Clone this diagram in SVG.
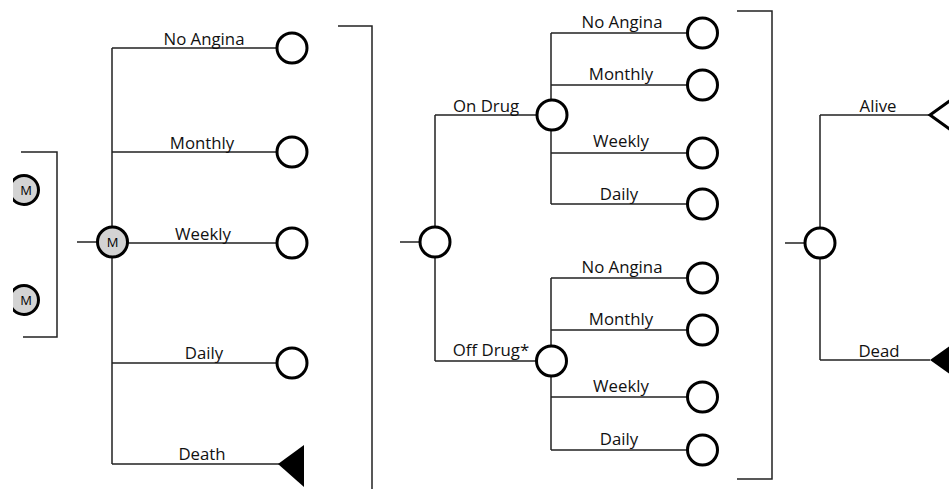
<svg xmlns="http://www.w3.org/2000/svg" width="949" height="489" viewBox="0 0 949 489">
<style>
.ln{stroke:#222;stroke-width:1.5;fill:none}
.ch{fill:#fff;stroke:#000;stroke-width:3}
.mk{fill:#d3d3d3;stroke:#000;stroke-width:3}
.tm{fill:#000;stroke:none}
.tr{fill:#fff;stroke:#000;stroke-width:3}
text{font-family:"Open Sans","DejaVu Sans",sans-serif;font-size:16.8px;fill:#111;text-anchor:middle}
.m{font-size:13px;fill:#000}
</style>
<defs>
<clipPath id="lc"><rect x="13" y="0" width="60" height="489"/></clipPath>
</defs>
<rect width="949" height="489" fill="#fff"/>
<g id="connectors">
<path class="ln" d="M21,152 H57 V337 H23"/>
<path class="ln" d="M77,242 H97"/>
<path class="ln" d="M112,48 V464 M112,48 H277 M112,152 H277 M112,243 H277 M112,363 H277 M112,464 H280"/>
<path class="ln" d="M338,26 H372 V489"/>
<path class="ln" d="M400,242 H420"/>
<path class="ln" d="M435,115 V227 M435,257 V361 M435,115 H537 M435,361 H536"/>
<path class="ln" d="M551,33 V100 M551,130 V204 M551,33 H687 M551,85 H687 M551,153 H687 M551,204 H687"/>
<path class="ln" d="M551,278 V346 M551,376 V450 M551,278 H687 M551,330 H687 M551,397 H687 M551,450 H687"/>
<path class="ln" d="M737,11 H772 V479 H737"/>
<path class="ln" d="M785,243 H805"/>
<path class="ln" d="M820,115 V228 M820,258 V360 M820,115 H930 M820,360 H930"/>
</g>
<g id="left-markov" clip-path="url(#lc)">
<circle class="mk" cx="24" cy="190" r="14.5"/><text class="m" x="26" y="195">M</text>
<circle class="mk" cx="24" cy="300" r="14.5"/><text class="m" x="26" y="305">M</text>
</g>
<g id="markov"><circle class="mk" cx="112.5" cy="242" r="15"/><text class="m" x="112.5" y="247">M</text></g>
<g id="t1-noangina"><text x="204" y="45">No Angina</text><circle class="ch" cx="292" cy="48" r="15"/></g>
<g id="t1-monthly"><text x="202" y="149">Monthly</text><circle class="ch" cx="292" cy="152" r="15"/></g>
<g id="t1-weekly"><text x="203" y="240">Weekly</text><circle class="ch" cx="292" cy="243" r="15"/></g>
<g id="t1-daily"><text x="204" y="359">Daily</text><circle class="ch" cx="292" cy="363" r="15"/></g>
<g id="t1-death"><text x="202" y="460">Death</text><polygon class="tm" points="278,464 304,445 304,487"/></g>
<g id="t2-root"><circle class="ch" cx="435" cy="242" r="15"/></g>
<g id="t2-ondrug"><text x="486" y="112">On Drug</text><circle class="ch" cx="552" cy="115" r="15"/></g>
<g id="t2-offdrug"><text x="491" y="356">Off Drug*</text><circle class="ch" cx="551.5" cy="361" r="15"/></g>
<g id="t2a-noangina"><text x="622" y="28">No Angina</text><circle class="ch" cx="702.5" cy="33" r="15"/></g>
<g id="t2a-monthly"><text x="621" y="80">Monthly</text><circle class="ch" cx="702.5" cy="85" r="15"/></g>
<g id="t2a-weekly"><text x="621" y="147">Weekly</text><circle class="ch" cx="702.5" cy="153" r="15"/></g>
<g id="t2a-daily"><text x="619" y="200">Daily</text><circle class="ch" cx="702.5" cy="204" r="15"/></g>
<g id="t2b-noangina"><text x="622" y="273">No Angina</text><circle class="ch" cx="702.5" cy="278" r="15"/></g>
<g id="t2b-monthly"><text x="621" y="325">Monthly</text><circle class="ch" cx="702.5" cy="330" r="15"/></g>
<g id="t2b-weekly"><text x="621" y="392">Weekly</text><circle class="ch" cx="702.5" cy="397" r="15"/></g>
<g id="t2b-daily"><text x="619" y="445">Daily</text><circle class="ch" cx="702.5" cy="450" r="15"/></g>
<g id="t3-root"><circle class="ch" cx="820" cy="243" r="15"/></g>
<g id="t3-alive"><text x="878" y="112">Alive</text><polygon class="tr" points="930,115 958,95 958,135"/></g>
<g id="t3-dead"><text x="879" y="357">Dead</text><polygon class="tm" points="930,360 958,340 958,380"/></g>
</svg>
